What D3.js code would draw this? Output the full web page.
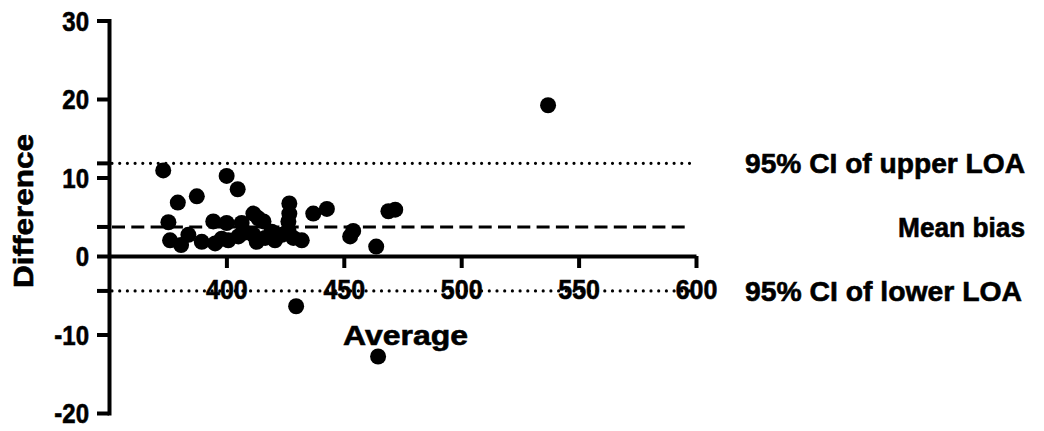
<!DOCTYPE html>
<html>
<head>
<meta charset="utf-8">
<script src="https://cdn.jsdelivr.net/npm/d3@7"></script>
<style>
  body { margin: 0; background: #fff; }
  text { font-family: "Liberation Sans", Arial, sans-serif; font-weight: bold; fill: #000; stroke: #000; stroke-width: 0.6px; }
</style>
</head>
<body>
<script>
// averages (x) and differences (y)
var averages = [373.1, 400.1, 404.8, 387.4, 379.3, 375.3, 376.0, 380.7, 383.8, 389.5,
                394.4, 395.2, 400.1, 400.8, 406.5, 405.1, 411.5, 413.6, 415.8, 411.5,
                412.9, 416.5, 419.3, 420.7, 423.6, 426.8, 426.8, 426.4, 426.4, 428.5,
                432.1, 437.0, 442.8, 452.7, 454.0, 469.0, 471.9, 463.8, 537.0, 429.7,
                464.6, 408.0, 398.0];
var differences = [10.9, 10.2, 8.5, 7.6, 6.8, 4.3, 2.0, 1.4, 2.7, 1.8,
                   4.4, 1.6, 4.2, 2.0, 4.2, 2.5, 5.4, 4.8, 4.4, 2.7,
                   1.8, 2.3, 3.1, 2.0, 2.7, 6.7, 5.4, 4.4, 3.3, 2.3,
                   2.0, 5.4, 6.0, 2.5, 3.2, 5.7, 5.9, 1.2, 19.2, -6.4,
                   -12.8, 3.0, 2.2];
// reference lines: upper CI of LOA, mean bias, lower CI of LOA
var refNames = ["95% CI of upper LOA", "Mean bias", "95% CI of lower LOA"];
var refValues = [11.8, 3.7, -4.45];
var xTicks = [400, 450, 500, 550, 600];
var yTicks = [-20, -10, 0, 10, 20, 30];

var width = 1044, height = 431;

var x = d3.scaleLinear().domain([350, 600]).range([109, 696]);
var y = d3.scaleLinear().domain([-20, 30]).range([413, 20.5]);

var svg = d3.select("body").append("svg")
    .attr("width", width)
    .attr("height", height);

// plain hyphen for negatives, like the original
var fmt = function (d) { return String(d); };

// taller glyphs at the width of a smaller size (the original font is narrow-ish)
function squeeze(sel, fromSize, toSize) {
    sel.each(function () {
        var t = d3.select(this);
        t.style("font-size", fromSize + "px");
        var w = this.getComputedTextLength();
        t.style("font-size", toSize + "px")
            .attr("textLength", w)
            .attr("lengthAdjust", "spacingAndGlyphs");
    });
}

//y axis
var yAxis = svg.append("g")
    .attr("transform", "translate(" + x(350) + ",0)")
    .call(d3.axisLeft(y).tickValues(yTicks).tickFormat(fmt).tickSize(12).tickSizeOuter(0).tickPadding(8));
yAxis.attr("font-size", null).attr("font-family", null);
yAxis.selectAll("line").attr("stroke", "#000").attr("stroke-width", 4);
yAxis.select(".domain").attr("stroke", "#000").attr("stroke-width", 4).attr("stroke-linecap", "square");
yAxis.selectAll("text").attr("dy", "0.36em").call(squeeze, 24, 27);

//x axis at zero
var xAxis = svg.append("g")
    .attr("transform", "translate(0," + y(0) + ")")
    .call(d3.axisBottom(x).tickValues(xTicks).tickFormat(fmt).tickSize(12).tickSizeOuter(0).tickPadding(12));
xAxis.attr("font-size", null).attr("font-family", null);
xAxis.selectAll("line").attr("stroke", "#000").attr("stroke-width", 4);
xAxis.select(".domain").attr("stroke", "#000").attr("stroke-width", 4);
xAxis.selectAll("text").call(squeeze, 25, 27);

//reference lines
var styles = [
    { dash: "0 7.7", cap: "round", w: 3.2 },
    { dash: "13 6.3", cap: "butt", w: 3 },
    { dash: "0 7.7", cap: "round", w: 3.2 }
];
refValues.forEach(function (v, i) {
    svg.append("line")
        .attr("x1", x(350) + 3).attr("x2", x(597.5))
        .attr("y1", y(v)).attr("y2", y(v))
        .attr("stroke", "#000")
        .attr("stroke-width", styles[i].w)
        .attr("stroke-dasharray", styles[i].dash)
        .attr("stroke-linecap", styles[i].cap);
    // stub on the y axis
    svg.append("line")
        .attr("x1", x(350) - 12).attr("x2", x(350))
        .attr("y1", y(v)).attr("y2", y(v))
        .attr("stroke", "#000").attr("stroke-width", 4);
});

//points
svg.append("g").selectAll("circle")
    .data(averages)
    .enter().append("circle")
    .attr("cx", function (d) { return x(d); })
    .attr("cy", function (d, i) { return y(differences[i]); })
    .attr("r", 8)
    .attr("fill", "#000");

//line labels on the right
var labelPos = [{ x: 745, len: 280 }, { x: 898, len: 127 }, { x: 745, len: 277 }];
refNames.forEach(function (name, i) {
    svg.append("text")
        .attr("x", labelPos[i].x)
        .attr("y", y(refValues[i]))
        .attr("dy", "0.36em")
        .style("font-size", "28px")
        .attr("textLength", labelPos[i].len)
        .attr("lengthAdjust", "spacingAndGlyphs")
        .text(name);
});

//axis titles
svg.append("text")
    .attr("x", 343).attr("y", 345)
    .style("font-size", "28px")
    .attr("textLength", 125)
    .attr("lengthAdjust", "spacingAndGlyphs")
    .text("Average");

svg.append("text")
    .attr("transform", "translate(33,288) rotate(-90)")
    .style("font-size", "28px")
    .attr("textLength", 154)
    .attr("lengthAdjust", "spacingAndGlyphs")
    .text("Difference");
</script>
</body>
</html>
